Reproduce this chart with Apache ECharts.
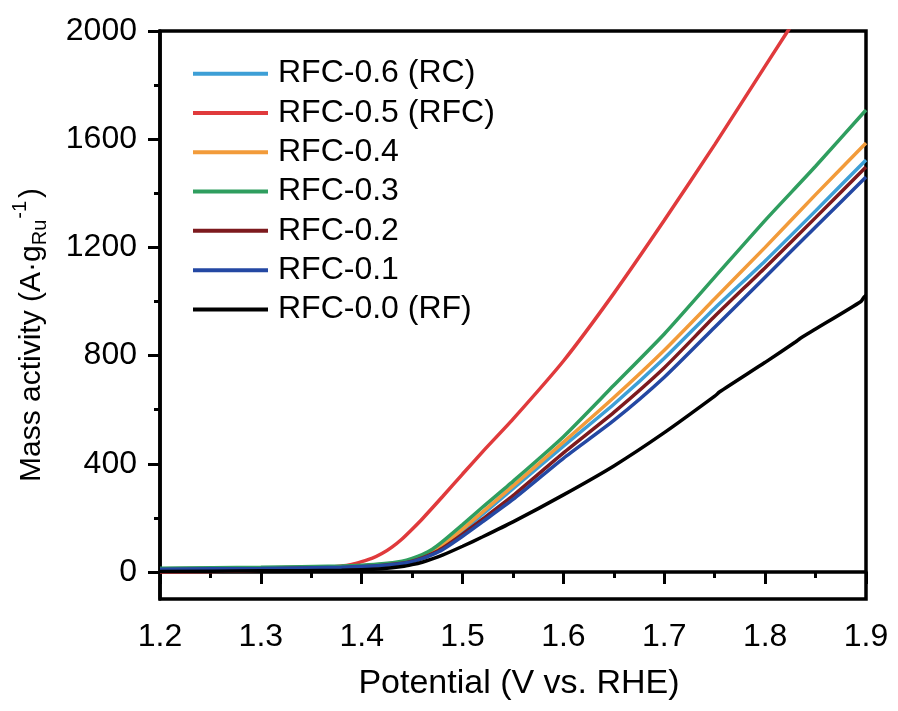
<!DOCTYPE html>
<html>
<head>
<meta charset="utf-8">
<script src="https://cdn.jsdelivr.net/npm/echarts@6/dist/echarts.min.js"></script>
<style>html,body{margin:0;padding:0;background:#fff;}#c{width:898px;height:711px;}</style>
</head>
<body>
<div id="c"></div>
<script>
const potential = [1.20, 1.30, 1.38, 1.40, 1.42, 1.44, 1.45, 1.46, 1.47, 1.48, 1.50, 1.52, 1.55, 1.60, 1.65, 1.70, 1.75, 1.80, 1.85, 1.90];
const rfc06 = [12, 15, 19, 22, 27, 36, 45, 57, 74, 95, 152, 214, 308, 465, 620, 790, 975, 1150, 1335, 1523];
const rfc04 = [12, 15, 20, 23, 28, 37, 46, 59, 76, 98, 158, 222, 318, 480, 645, 820, 1010, 1200, 1395, 1586];
const rfc03 = [14, 17, 22, 25, 30, 40, 50, 64, 84, 112, 175, 240, 335, 500, 690, 880, 1090, 1300, 1500, 1708];
const rfc02 = [8, 11, 16, 19, 24, 32, 40, 52, 68, 88, 140, 196, 282, 440, 590, 755, 945, 1125, 1310, 1497];
const rfc01 = [10, 13, 17, 20, 24, 31, 38, 49, 64, 82, 132, 186, 268, 420, 560, 720, 905, 1090, 1275, 1460];

const redPotential = [1.20, 1.25, 1.30, 1.35, 1.38, 1.39, 1.40, 1.41, 1.42, 1.43, 1.44, 1.45, 1.46, 1.48, 1.50, 1.52, 1.55, 1.60, 1.65, 1.70, 1.75, 1.80, 1.85];
const rfc05 = [0, 2, 6, 12, 22, 28, 38, 50, 68, 92, 122, 158, 196, 278, 362, 445, 565, 780, 1030, 1300, 1580, 1870, 2160];

const blackPotential = [1.20, 1.30, 1.38, 1.40, 1.42, 1.44, 1.45, 1.46, 1.47, 1.48, 1.50, 1.52, 1.55, 1.60, 1.65, 1.70, 1.75, 1.755, 1.80, 1.83, 1.835, 1.85, 1.895, 1.898, 1.90];
const rfc00 = [2, 4, 6, 8, 12, 20, 27, 36, 48, 62, 95, 130, 185, 285, 392, 515, 650, 666, 775, 850, 864, 898, 1000, 1016, 1022];

const seriesNames = ['RFC-0.6 (RC)', 'RFC-0.5 (RFC)', 'RFC-0.4', 'RFC-0.3', 'RFC-0.2', 'RFC-0.1', 'RFC-0.0 (RF)'];
const seriesColors = ['#3d9fd6', '#e03a3c', '#f29b3a', '#2f9e5f', '#7d1a1e', '#2448a3', '#000000'];
const xTicks = [1.2, 1.3, 1.4, 1.5, 1.6, 1.7, 1.8, 1.9];
const xMinorTicks = [1.25, 1.35, 1.45, 1.55, 1.65, 1.75, 1.85];
const yTicks = [0, 400, 800, 1200, 1600, 2000];
const yMinorTicks = [200, 600, 1000, 1400, 1800];

function pairs(xs, ys) { return xs.map((x, i) => [x, ys[i]]); }
const seriesData = [
  pairs(potential, rfc06),
  pairs(redPotential, rfc05),
  pairs(potential, rfc04),
  pairs(potential, rfc03),
  pairs(potential, rfc02),
  pairs(potential, rfc01),
  pairs(blackPotential, rfc00)
];

const FONT = "'Liberation Sans', Arial, Helvetica, sans-serif";
const chart = echarts.init(document.getElementById('c'), null, {renderer: 'canvas'});
chart.setOption({
  animation: false,
  backgroundColor: '#fff',
  grid: {left: 160, right: 32, top: 31, bottom: 112, show: true, borderColor: '#000', borderWidth: 3.5, backgroundColor: 'transparent'},
  legend: {
    left: 188, top: 49, orient: 'vertical',
    data: seriesNames,
    icon: 'rect', itemWidth: 75, itemHeight: 4, itemGap: 0,
    textStyle: {fontFamily: FONT, fontSize: 32, color: '#000', lineHeight: 39.3, padding: [0, 0, 0, 5]}
  },
  xAxis: [{
    type: 'value', min: 1.2, max: 1.9, interval: 0.1,
    axisLine: {show: true, lineStyle: {color: '#000', width: 3.5}},
    axisTick: {show: true, inside: false, length: 12, lineStyle: {color: '#000', width: 3}, customValues: xTicks},
    splitLine: {show: false},
    axisLabel: {fontFamily: FONT, fontSize: 32, color: '#000', margin: 22, formatter: v => v.toFixed(1), customValues: xTicks},
    name: 'Potential (V vs. RHE)', nameLocation: 'middle', nameGap: 68,
    nameTextStyle: {fontFamily: FONT, fontSize: 34, color: '#000', padding: [0, 0, 0, 12]}
  }, {
    type: 'value', min: 1.2, max: 1.9, position: 'bottom',
    axisLine: {show: false},
    axisTick: {show: true, inside: false, length: 6, lineStyle: {color: '#000', width: 3}, customValues: xMinorTicks},
    axisLabel: {show: false},
    splitLine: {show: false}
  }],
  yAxis: [{
    type: 'value', min: -100, max: 2000,
    axisLine: {show: true, lineStyle: {color: '#000', width: 3.5}},
    axisTick: {show: true, inside: false, length: 12, lineStyle: {color: '#000', width: 3}, customValues: yTicks},
    splitLine: {show: false},
    axisLabel: {fontFamily: FONT, fontSize: 32, color: '#000', margin: 23, formatter: v => String(v), customValues: yTicks},
    name: '{n|Mass activity (A·g}{sub|Ru}{sup|-1}{n|)}',
    nameLocation: 'middle', nameRotate: 90, nameGap: 106,
    nameTextStyle: {
      fontFamily: FONT, fontSize: 30, color: '#000', padding: [0, 40, 0, 0],
      rich: {
        n: {fontFamily: FONT, fontSize: 30, color: '#000'},
        sub: {fontFamily: FONT, fontSize: 20, color: '#000', padding: [16, 0, 0, 0]},
        sup: {fontFamily: FONT, fontSize: 20, color: '#000', padding: [0, 3, 24, 1]}
      }
    }
  }, {
    type: 'value', min: -100, max: 2000, position: 'left',
    axisLine: {show: false},
    axisTick: {show: true, inside: false, length: 6, lineStyle: {color: '#000', width: 3}, customValues: yMinorTicks},
    axisLabel: {show: false},
    splitLine: {show: false}
  }],
  series: seriesNames.map((name, i) => ({
    name: name, type: 'line', data: seriesData[i],
    showSymbol: false, smooth: 0.2, clip: true,
    lineStyle: {color: seriesColors[i], width: 3.5},
    itemStyle: {color: seriesColors[i]},
    z: 2 + i
  }))
});
</script>
</body>
</html>
